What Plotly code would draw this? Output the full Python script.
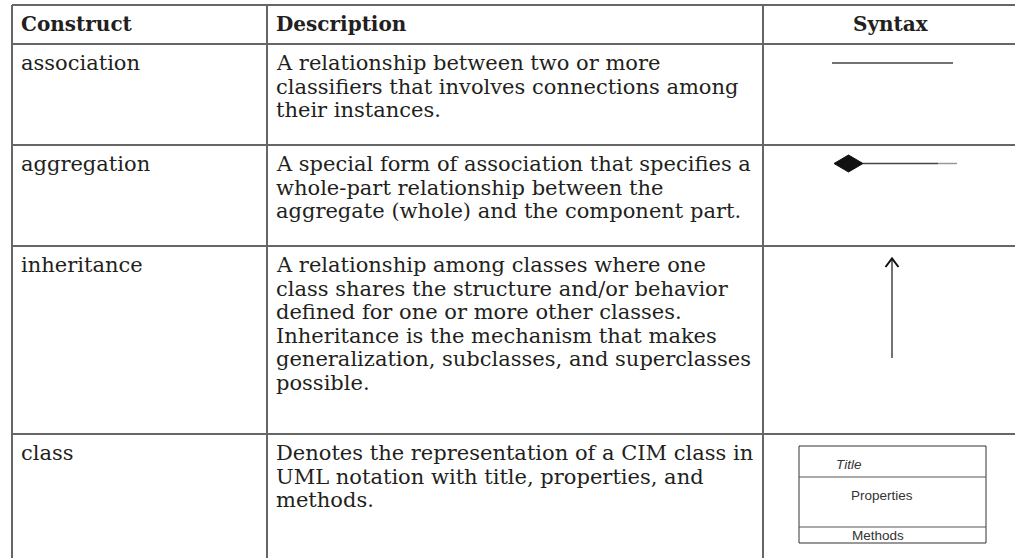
import plotly.graph_objects as go

# ---- table content ----
headers = ["Construct", "Description", "Syntax"]
constructs = ["association", "aggregation", "inheritance", "class"]
descriptions = [
    ["A relationship between two or more",
     "classifiers that involves connections among",
     "their instances."],
    ["A special form of association that specifies a",
     "whole-part relationship between the",
     "aggregate (whole) and the component part."],
    ["A relationship among classes where one",
     "class shares the structure and/or behavior",
     "defined for one or more other classes.",
     "Inheritance is the mechanism that makes",
     "generalization, subclasses, and superclasses",
     "possible."],
    ["Denotes the representation of a CIM class in",
     "UML notation with title, properties, and",
     "methods."],
]
class_box_labels = ["Title", "Properties", "Methods"]

# ---- layout geometry (pixels) ----
W, H = 1015, 558
col_x = [12, 267, 763]
row_y = [5, 44, 145, 246, 434]
line_h = 23.5
first_off = 19
grid_color = "#666666"
text_color = "#231f20"
serif = "DejaVu Serif"
fsize = 21
hsize = 20

fig = go.Figure()
fig.add_trace(go.Scatter(x=[0, W], y=[0, H], mode="markers",
                         marker=dict(opacity=0), hoverinfo="skip", showlegend=False))

shapes = []
for y in row_y:
    shapes.append(dict(type="line", x0=col_x[0], x1=W, y0=y, y1=y,
                       line=dict(color=grid_color, width=2)))
for x in col_x:
    shapes.append(dict(type="line", x0=x, x1=x, y0=row_y[0], y1=H,
                       line=dict(color=grid_color, width=2)))

annotations = []

def txt(x, y, t, anchor="left", size=fsize):
    annotations.append(dict(x=x, y=y, xref="x", yref="y", text=t, xanchor=anchor,
                            yanchor="middle", showarrow=False,
                            font=dict(family=serif, size=size, color=text_color)))

txt(col_x[0] + 7, 24, "<b>%s</b>" % headers[0], size=hsize)
txt(col_x[1] + 7, 24, "<b>%s</b>" % headers[1], size=hsize)
txt((col_x[2] + W) / 2 + 2, 24, "<b>%s</b>" % headers[2], anchor="center", size=hsize)

for i, name in enumerate(constructs):
    top = row_y[i + 1]
    txt(col_x[0] + 7, top + first_off, name)
    for j, ln in enumerate(descriptions[i]):
        txt(col_x[1] + 7, top + first_off + j * line_h, ln)

# ---- syntax symbols ----
shapes.append(dict(type="line", x0=832, x1=953, y0=63, y1=63,
                   line=dict(color="#444444", width=1.5)))
shapes.append(dict(type="path", path="M 834 163.5 L 848.5 155 L 863 163.5 L 848.5 172 Z",
                   fillcolor="#111111", line=dict(color="#111111", width=1)))
shapes.append(dict(type="line", x0=863, x1=938, y0=163.5, y1=163.5,
                   line=dict(color="#444444", width=1.5)))
shapes.append(dict(type="line", x0=938, x1=957, y0=163.5, y1=163.5,
                   line=dict(color="#999999", width=1.5)))
shapes.append(dict(type="line", x0=892, x1=892, y0=259, y1=358,
                   line=dict(color="#444444", width=1.5)))
shapes.append(dict(type="path", path="M 885.5 267 L 892 258.5 L 898.5 267",
                   line=dict(color="#111111", width=2)))
bx0, bx1, by0, by1 = 799, 986, 446, 543
shapes.append(dict(type="rect", x0=bx0, x1=bx1, y0=by0, y1=by1,
                   line=dict(color="#333333", width=1)))
for yy in (477, 527):
    shapes.append(dict(type="line", x0=bx0, x1=bx1, y0=yy, y1=yy,
                       line=dict(color="#555555", width=1)))
box_pos = [(834, 464, "<i>%s</i>"), (849, 495, "%s"), (850, 535, "%s")]
for (x, y, fmt), lab in zip(box_pos, class_box_labels):
    annotations.append(dict(x=x, y=y, xref="x", yref="y", text=fmt % lab,
                            xanchor="left", yanchor="middle", showarrow=False,
                            font=dict(family="Liberation Sans", size=13.5, color="#333333")))

fig.update_layout(
    width=W, height=H,
    margin=dict(l=0, r=0, t=0, b=0),
    paper_bgcolor="white", plot_bgcolor="white",
    xaxis=dict(range=[0, W], visible=False, fixedrange=True),
    yaxis=dict(range=[H, 0], visible=False, fixedrange=True),
    shapes=shapes, annotations=annotations, showlegend=False,
)
fig.write_html("out.html", config={"displayModeBar": False},
               post_script="document.body.style.margin='0';document.body.style.overflow='hidden';")
